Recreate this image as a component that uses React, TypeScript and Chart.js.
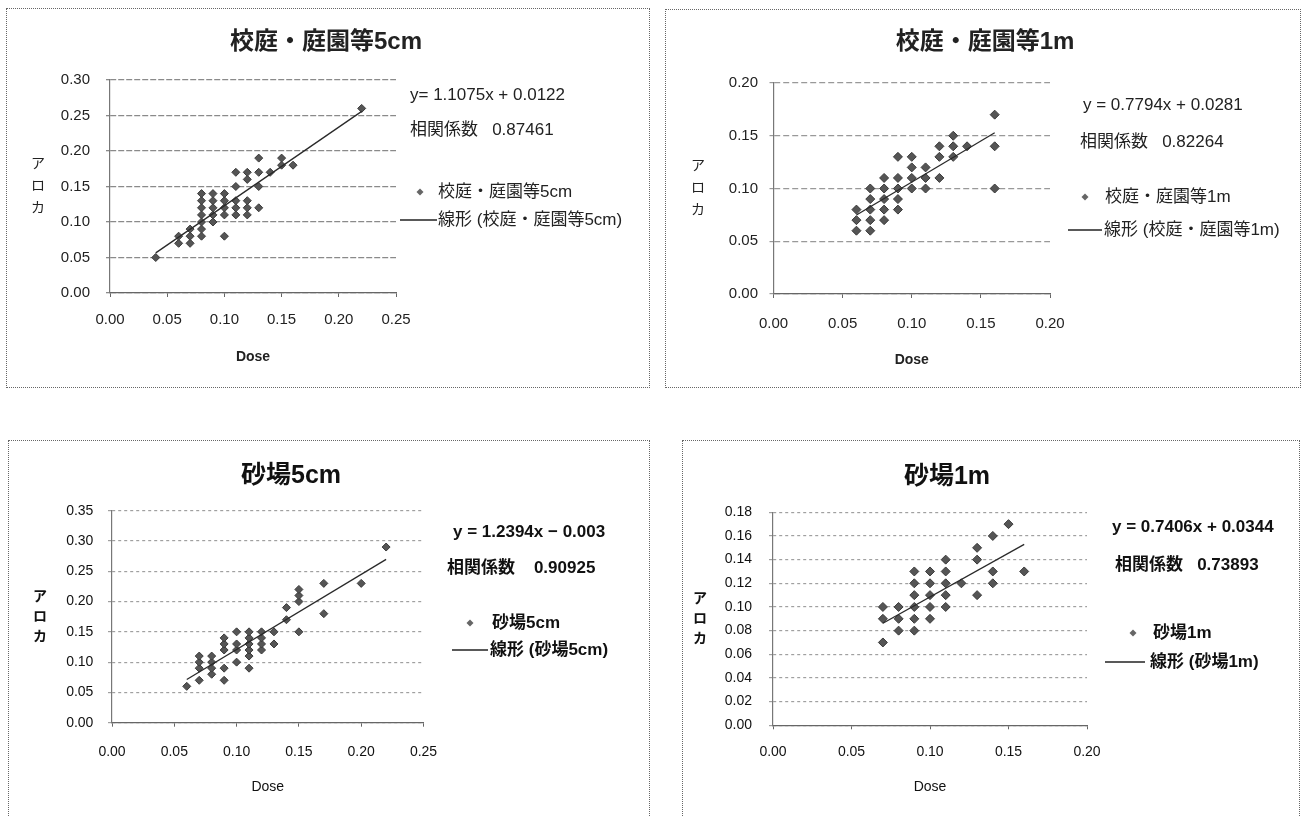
import React, { useEffect, useRef } from "react";
import { Chart, registerables } from "chart.js";

Chart.register(...registerables);

// ---------------- data ----------------
const titles = ["校庭・庭園等5cm", "校庭・庭園等1m", "砂場5cm", "砂場1m"];
const trendNames = [
  "線形 (校庭・庭園等5cm)",
  "線形 (校庭・庭園等1m)",
  "線形 (砂場5cm)",
  "線形 (砂場1m)",
];
const equations = [
  "y= 1.1075x + 0.0122",
  "y = 0.7794x + 0.0281",
  "y = 1.2394x − 0.003",
  "y = 0.7406x + 0.0344",
];
const corrLabel = "相関係数";
const corrValues = ["0.87461", "0.82264", "0.90925", "0.73893"];
const slopes = [1.1075, 0.7794, 1.2394, 0.7406];
const intercepts = [0.0122, 0.0281, -0.003, 0.0344];
const yAxisTitle = ["ア", "ロ", "カ"];
const xAxisTitle = "Dose";

// 校庭・庭園等5cm
const dose1 = [
  0.04, 0.06, 0.06, 0.07, 0.07, 0.07,
  0.08, 0.08, 0.08, 0.08, 0.08, 0.08, 0.08,
  0.09, 0.09, 0.09, 0.09, 0.09,
  0.10, 0.10, 0.10, 0.10, 0.10,
  0.11, 0.11, 0.11, 0.11, 0.11,
  0.12, 0.12, 0.12, 0.12, 0.12,
  0.13, 0.13, 0.13, 0.13,
  0.14, 0.15, 0.15, 0.16, 0.22,
];
const aroka1 = [
  0.05, 0.07, 0.08, 0.07, 0.08, 0.09,
  0.08, 0.09, 0.10, 0.11, 0.12, 0.13, 0.14,
  0.10, 0.11, 0.12, 0.13, 0.14,
  0.08, 0.11, 0.12, 0.13, 0.14,
  0.11, 0.12, 0.13, 0.15, 0.17,
  0.11, 0.12, 0.13, 0.16, 0.17,
  0.12, 0.15, 0.17, 0.19,
  0.17, 0.18, 0.19, 0.18, 0.26,
];

// 校庭・庭園等1m
const dose2 = [
  0.06, 0.06, 0.06,
  0.07, 0.07, 0.07, 0.07, 0.07,
  0.08, 0.08, 0.08, 0.08, 0.08,
  0.09, 0.09, 0.09, 0.09, 0.09,
  0.10, 0.10, 0.10, 0.10,
  0.11, 0.11, 0.11,
  0.12, 0.12, 0.12,
  0.13, 0.13, 0.13,
  0.14, 0.16, 0.16, 0.16,
];
const aroka2 = [
  0.06, 0.07, 0.08,
  0.06, 0.07, 0.08, 0.09, 0.10,
  0.07, 0.08, 0.09, 0.10, 0.11,
  0.08, 0.09, 0.10, 0.11, 0.13,
  0.10, 0.11, 0.12, 0.13,
  0.10, 0.11, 0.12,
  0.11, 0.13, 0.14,
  0.13, 0.14, 0.15,
  0.14, 0.10, 0.14, 0.17,
];

// 砂場5cm
const dose3 = [
  0.06,
  0.07, 0.07, 0.07, 0.07,
  0.08, 0.08, 0.08, 0.08,
  0.09, 0.09, 0.09, 0.09, 0.09,
  0.10, 0.10, 0.10, 0.10,
  0.11, 0.11, 0.11, 0.11, 0.11, 0.11,
  0.12, 0.12, 0.12, 0.12,
  0.13, 0.13,
  0.14, 0.14,
  0.15, 0.15, 0.15, 0.15,
  0.17, 0.17, 0.20, 0.22,
];
const aroka3 = [
  0.06,
  0.07, 0.09, 0.10, 0.11,
  0.08, 0.09, 0.10, 0.11,
  0.07, 0.09, 0.12, 0.13, 0.14,
  0.10, 0.12, 0.13, 0.15,
  0.09, 0.11, 0.12, 0.13, 0.14, 0.15,
  0.12, 0.13, 0.14, 0.15,
  0.13, 0.15,
  0.17, 0.19,
  0.15, 0.20, 0.21, 0.22,
  0.18, 0.23, 0.23, 0.29,
];

// 砂場1m
const dose4 = [
  0.07, 0.07, 0.07,
  0.08, 0.08, 0.08,
  0.09, 0.09, 0.09, 0.09, 0.09, 0.09,
  0.10, 0.10, 0.10, 0.10, 0.10,
  0.11, 0.11, 0.11, 0.11, 0.11,
  0.12,
  0.13, 0.13, 0.13,
  0.14, 0.14, 0.14,
  0.15, 0.16,
];
const aroka4 = [
  0.07, 0.09, 0.10,
  0.08, 0.09, 0.10,
  0.08, 0.09, 0.10, 0.11, 0.12, 0.13,
  0.09, 0.10, 0.11, 0.12, 0.13,
  0.10, 0.11, 0.12, 0.13, 0.14,
  0.12,
  0.11, 0.14, 0.15,
  0.12, 0.13, 0.16,
  0.17, 0.13,
];

const xTicksWide = [0, 0.05, 0.1, 0.15, 0.2, 0.25];
const xTicksNarrow = [0, 0.05, 0.1, 0.15, 0.2];
const yTicks1 = [0, 0.05, 0.1, 0.15, 0.2, 0.25, 0.3];
const yTicks2 = [0, 0.05, 0.1, 0.15, 0.2];
const yTicks3 = [0, 0.05, 0.1, 0.15, 0.2, 0.25, 0.3, 0.35];
const yTicks4 = [0, 0.02, 0.04, 0.06, 0.08, 0.1, 0.12, 0.14, 0.16, 0.18];

const doseSeries = [dose1, dose2, dose3, dose4];
const arokaSeries = [aroka1, aroka2, aroka3, aroka4];
const xTickSets = [xTicksWide, xTicksNarrow, xTicksWide, xTicksNarrow];
const yTickSets = [yTicks1, yTicks2, yTicks3, yTicks4];

// ---------------- layout / style ----------------
const FONT = "'Liberation Sans', 'Noto Sans CJK JP', sans-serif";
const XH = 80;

type Layout = {
  left: number; top: number; w: number; h: number;
  border: [number, number, number, number];
  area: { left: number; top: number; right: number; bottom: number };
  tickSize: number; yTickPad: number; xTickPad: number; dosePadB: number;
  titleX: number; titleY: number; titleSize: number;
  yTitleX: number; yTitleGap: number;
  eq: [number, number]; corr: [number, number]; corrGap: string;
  marker: [number, number]; legText: number;
  line: [number, number, number]; legText2: number;
  bold: boolean; gridColor: string; gridDash: number[]; gridWidth: number;
  pointR: number;
};

const layouts: Layout[] = [
  {
    left: 6, top: 8, w: 644, h: 380, border: [6, 8, 650, 388],
    area: { left: 104, top: 72, right: 390, bottom: 285 },
    tickSize: 15, yTickPad: 16, xTickPad: 14, dosePadB: 7.6,
    titleX: 320, titleY: 34, titleSize: 24,
    yTitleX: 32, yTitleGap: 22,
    eq: [404, 87], corr: [404, 122], corrGap: "   ",
    marker: [414, 184], legText: 432,
    line: [394, 431, 212], legText2: 432,
    bold: false, gridColor: "#8a8a8a", gridDash: [6, 2], gridWidth: 1.3, pointR: 4,
  },
  {
    left: 665, top: 8, w: 635, h: 380, border: [665, 9, 1301, 388],
    area: { left: 108.5, top: 75, right: 385, bottom: 286 },
    tickSize: 15, yTickPad: 11.5, xTickPad: 17, dosePadB: 5.6,
    titleX: 320, titleY: 34, titleSize: 24,
    yTitleX: 33, yTitleGap: 22,
    eq: [418, 97], corr: [415, 134], corrGap: "   ",
    marker: [420, 189], legText: 440,
    line: [403, 437, 222], legText2: 439,
    bold: false, gridColor: "#999999", gridDash: [6, 3], gridWidth: 1.2, pointR: 4.5,
  },
  {
    left: 8, top: 440, w: 642, h: 390, border: [8, 440, 650, 830],
    area: { left: 104, top: 70.7, right: 415.5, bottom: 282.7 },
    tickSize: 14, yTickPad: 14.6, xTickPad: 16.9, dosePadB: 7.3,
    titleX: 283, titleY: 36, titleSize: 25,
    yTitleX: 32, yTitleGap: 20,
    eq: [445, 92], corr: [439, 128], corrGap: "    ",
    marker: [462, 183], legText: 484,
    line: [444, 480, 210], legText2: 482,
    bold: true, gridColor: "#a0a0a0", gridDash: [3, 3], gridWidth: 1.2, pointR: 4,
  },
  {
    left: 682, top: 440, w: 618, h: 390, border: [682, 440, 1300, 830],
    area: { left: 91, top: 72.3, right: 405, bottom: 285.3 },
    tickSize: 14, yTickPad: 17, xTickPad: 14.3, dosePadB: 9.9,
    titleX: 265, titleY: 37, titleSize: 25,
    yTitleX: 18, yTitleGap: 20,
    eq: [430, 87], corr: [433, 125], corrGap: "   ",
    marker: [451, 193], legText: 471,
    line: [423, 463, 222], legText2: 468,
    bold: true, gridColor: "#a0a0a0", gridDash: [3, 3], gridWidth: 1.2, pointR: 4.5,
  },
];

function buildChart(canvas: HTMLCanvasElement, i: number) {
  const L = layouts[i];
  const xs = doseSeries[i];
  const ys = arokaSeries[i];
  const pts = xs.map((x, k) => ({ x, y: ys[k] }));
  const xMin = Math.min(...xs);
  const xMax = Math.max(...xs);
  const trend = [xMin, xMax].map((x) => ({ x, y: slopes[i] * x + intercepts[i] }));
  const xt = xTickSets[i];
  const yt = yTickSets[i];
  const textColor = L.bold ? "#111" : "#222";

  const plugin = {
    id: "panelText" + i,
    afterDraw(chart: any) {
      const ctx = chart.ctx as CanvasRenderingContext2D;
      ctx.save();
      ctx.fillStyle = textColor;
      ctx.textBaseline = "middle";
      ctx.textAlign = "center";
      ctx.font = `bold ${L.titleSize}px ${FONT}`;
      ctx.fillText(titles[i], L.titleX, L.titleY);

      ctx.font = `${L.bold ? "bold " : ""}14px ${FONT}`;
      const cy = (chart.chartArea.top + chart.chartArea.bottom) / 2;
      yAxisTitle.forEach((ch, k) => ctx.fillText(ch, L.yTitleX, cy + (k - 1) * L.yTitleGap));

      ctx.textAlign = "left";
      ctx.font = `${L.bold ? "bold " : ""}17px ${FONT}`;
      ctx.fillText(equations[i], L.eq[0], L.eq[1]);
      ctx.fillText(corrLabel + L.corrGap + corrValues[i], L.corr[0], L.corr[1]);
      ctx.fillText(titles[i], L.legText, L.marker[1]);
      ctx.fillText(trendNames[i], L.legText2, L.line[2]);

      // legend marker
      const [mx, my] = L.marker;
      const r = 3.5;
      ctx.beginPath();
      ctx.moveTo(mx, my - r);
      ctx.lineTo(mx + r, my);
      ctx.lineTo(mx, my + r);
      ctx.lineTo(mx - r, my);
      ctx.closePath();
      ctx.fillStyle = "#666";
      ctx.fill();
      // legend line
      ctx.beginPath();
      ctx.moveTo(L.line[0], L.line[2]);
      ctx.lineTo(L.line[1], L.line[2]);
      ctx.strokeStyle = "#222";
      ctx.lineWidth = 1.5;
      ctx.stroke();
      ctx.restore();
    },
  };

  const tickFont = { family: FONT, size: L.tickSize, weight: "normal" as const };

  return new Chart(canvas, {
    type: "scatter",
    data: {
      datasets: [
        {
          label: trendNames[i],
          data: trend,
          showLine: true,
          pointRadius: 0,
          borderColor: "#2a2a2a",
          borderWidth: 1.3,
          fill: false,
        },
        {
          label: titles[i],
          data: pts,
          pointStyle: "rectRot",
          pointRadius: L.pointR,
          backgroundColor: "#555",
          borderColor: "#3a3a3a",
          borderWidth: 1,
        },
      ],
    },
    options: {
      responsive: false,
      animation: false,
      events: [],
      layout: {
        padding: {
          left: 0,
          top: L.area.top,
          right: L.w - L.area.right,
          bottom: L.h - L.area.bottom - XH,
        },
      },
      plugins: {
        legend: { display: false },
        tooltip: { enabled: false },
        title: { display: false },
      },
      scales: {
        x: {
          type: "linear",
          min: xt[0],
          max: xt[xt.length - 1],
          afterBuildTicks: (s: any) => {
            s.ticks = xt.map((v) => ({ value: v }));
          },
          afterFit: (s: any) => {
            s.height = XH;
          },
          ticks: {
            callback: (v: any) => Number(v).toFixed(2),
            padding: L.xTickPad,
            font: tickFont,
            color: textColor,
            maxRotation: 0,
            autoSkip: false,
          },
          grid: { drawOnChartArea: false, drawTicks: true, tickLength: 4, color: "#666" },
          border: { display: true, color: "#666", width: 1.3 },
          title: {
            display: true,
            text: xAxisTitle,
            color: textColor,
            font: { family: FONT, size: 14, weight: L.bold ? "normal" : "bold" },
            padding: { top: 0, bottom: L.dosePadB },
          },
        },
        y: {
          type: "linear",
          min: yt[0],
          max: yt[yt.length - 1],
          afterBuildTicks: (s: any) => {
            s.ticks = yt.map((v) => ({ value: v }));
          },
          afterFit: (s: any) => {
            s.width = L.area.left;
          },
          ticks: {
            callback: (v: any) => Number(v).toFixed(2),
            padding: L.yTickPad,
            font: tickFont,
            color: textColor,
            autoSkip: false,
          },
          grid: { color: L.gridColor, lineWidth: L.gridWidth, drawTicks: true, tickLength: 4 },
          border: { display: true, color: "#777", width: 1.2, dash: L.gridDash },
        },
      },
    },
    plugins: [plugin],
  } as any);
}

function Panel({ index }: { index: number }) {
  const ref = useRef<HTMLCanvasElement | null>(null);
  const L = layouts[index];
  useEffect(() => {
    if (!ref.current) return;
    const chart = buildChart(ref.current, index);
    return () => chart.destroy();
  }, [index]);
  const [bl, bt, br, bb] = L.border;
  return (
    <>
      <canvas
        ref={ref}
        width={L.w}
        height={L.h}
        style={{ position: "absolute", left: L.left, top: L.top, width: L.w, height: L.h, display: "block" }}
      />
      <div
        style={{
          position: "absolute",
          left: bl,
          top: bt,
          width: br - bl,
          height: bb - bt,
          border: "1px dotted #666",
          boxSizing: "border-box",
          pointerEvents: "none",
        }}
      />
    </>
  );
}

export default function App() {
  return (
    <div
      style={{
        position: "absolute",
        left: 0,
        top: 0,
        width: 1304,
        height: 817,
        overflow: "hidden",
        background: "#fff",
      }}
    >
      {[0, 1, 2, 3].map((i) => (
        <Panel key={i} index={i} />
      ))}
    </div>
  );
}
